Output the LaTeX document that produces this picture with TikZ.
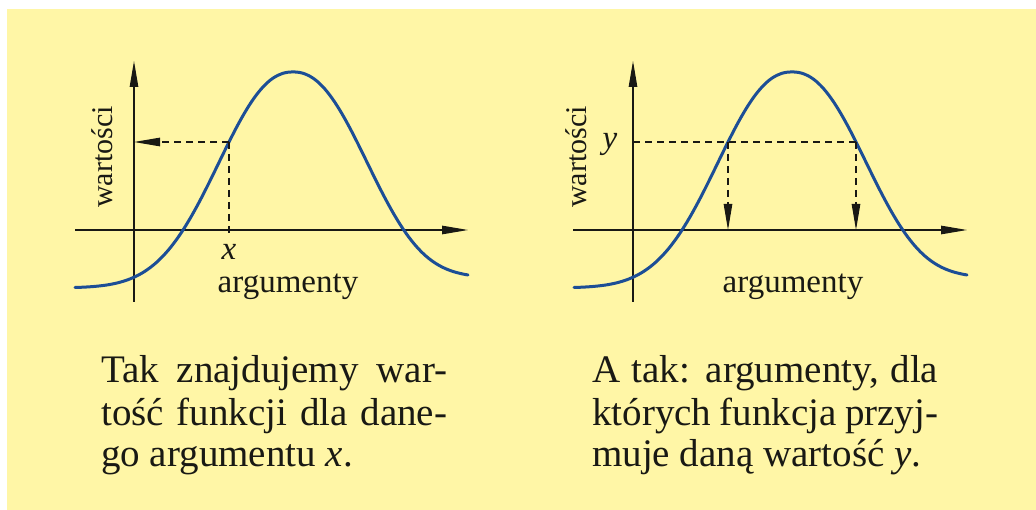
\documentclass[tikz,border=0pt]{standalone}
\usepackage{fontspec}
\setmainfont{Liberation Serif}
\usetikzlibrary{arrows.meta}
\definecolor{bgyellow}{RGB}{255,246,166}
\definecolor{curveblue}{RGB}{28,78,150}
\definecolor{ink}{RGB}{25,25,20}
\newcommand{\figfont}{\fontsize{33}{38}\selectfont}
\newcommand{\valfont}{\fontsize{30}{36}\selectfont}
\newcommand{\varfont}{\fontsize{33}{38}\selectfont\itshape}
\newcommand{\capfont}{\fontsize{39}{41}\selectfont}
\newcommand{\capline}[1]{\makebox[346pt][s]{#1}}
\newcommand{\bellcurve}{plot[domain=-218:175,samples=160,smooth]
  ({293+\x},{230-(216*exp(-((abs(\x)+0.01)/97.3)^2.236)-58+10/(1+exp(min(8,(150-\x)/20))))})}
\begin{document}
\begin{tikzpicture}[x=1pt,y=-1pt,
  >={Triangle[length=26pt,width=8.5pt]},
  axisline/.style={draw=ink,line width=1.1pt},
  guideline/.style={draw=ink,line width=1.1pt,dash pattern=on 7pt off 5pt},
  graph/.style={draw=curveblue,line width=3pt,line cap=round,line join=round},
  lbl/.style={inner sep=0pt,text=ink,font=\figfont},
  vallbl/.style={inner sep=0pt,text=ink,font=\valfont,rotate=90,anchor=base},
  varlbl/.style={inner sep=0pt,text=ink,font=\varfont,anchor=base},
  captext/.style={inner sep=0pt,text=ink,font=\capfont,anchor=base west}]
\useasboundingbox (0,0) rectangle (1036,510);
\fill[bgyellow] (7,9) rectangle (1036,510);

% ---------- left panel ----------
\coordinate (Lxs) at (75,230);
\coordinate (Lxe) at (468,230);
\coordinate (Lys) at (134,302);
\coordinate (Lye) at (134,61);
\coordinate (Lp) at (229,142);
\coordinate (Lpy) at (134,142);
\coordinate (Lpx) at (229,233);
\draw[axisline,->] (Lxs) -- (Lxe);
\draw[axisline,->] (Lys) -- (Lye);
\draw[graph] \bellcurve;
\draw[guideline,->] (Lp) -- (Lpy);
\draw[guideline] (Lp) -- (Lpx);
\node[varlbl] (Lx) at (229,260) {x};
\node[lbl,anchor=base] (Larg) at (288,293) {argumenty};
\node[vallbl] (Lval) at (112,157) {wartości};

% ---------- right panel ----------
\coordinate (Rxs) at (573,230);
\coordinate (Rxe) at (967,230);
\coordinate (Rys) at (633,302);
\coordinate (Rye) at (633,61);
\coordinate (Rpy) at (633,142);
\coordinate (Rp1) at (728,142);
\coordinate (Rp2) at (856,142);
\coordinate (Rq1) at (728,230);
\coordinate (Rq2) at (856,230);
\draw[axisline,->] (Rxs) -- (Rxe);
\draw[axisline,->] (Rys) -- (Rye);
\begin{scope}[xshift=499pt]
\draw[graph] \bellcurve;
\end{scope}
\draw[guideline] (Rpy) -- (Rp2);
\draw[guideline,->] (Rp1) -- (Rq1);
\draw[guideline,->] (Rp2) -- (Rq2);
\node[varlbl] (Ry) at (610,149) {y};
\node[lbl,anchor=base] (Rarg) at (793,293) {argumenty};
\node[vallbl] (Rval) at (586,157) {wartości};

% ---------- captions ----------
\node[captext] (Lc1) at (101,383) {\capline{Tak znajdujemy war-}};
\node[captext] (Lc2) at (101,425) {\capline{tość funkcji dla dane-}};
\node[captext] (Lc3) at (101,466) {go argumentu \textit{x}.};
\node[captext] (Rc1) at (592,383) {\capline{A tak: argumenty, dla}};
\node[captext] (Rc2) at (592,425) {\capline{których funkcja przyj-}};
\node[captext] (Rc3) at (592,466) {muje daną wartość \textit{y}.};
\end{tikzpicture}
\end{document}
